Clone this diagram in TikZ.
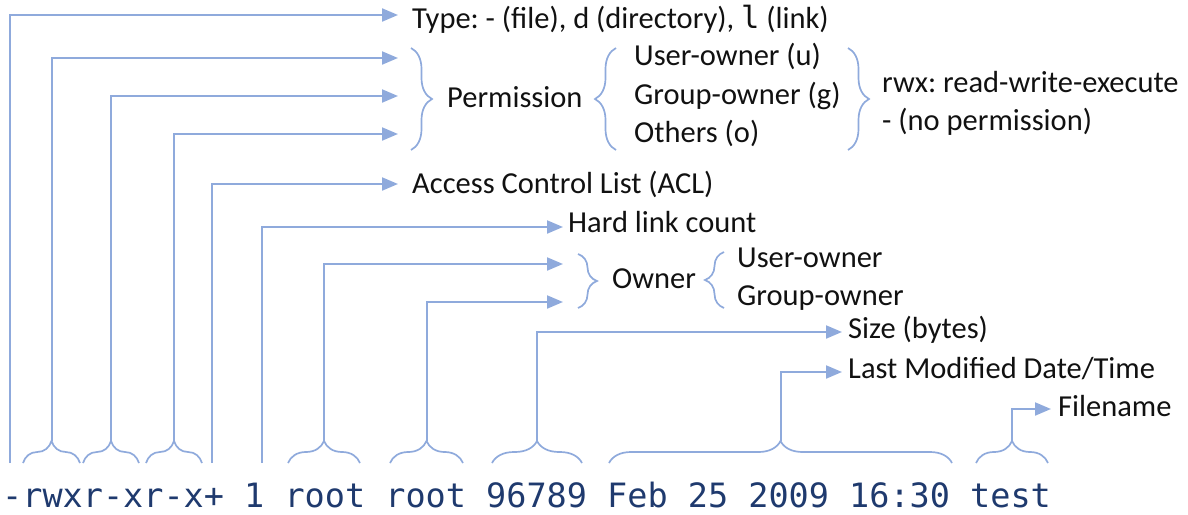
\documentclass[tikz,border=0pt]{standalone}
\usepackage{fontspec}
\setmainfont{Carlito}
\setmonofont{DejaVu Sans Mono}
\usetikzlibrary{arrows.meta,decorations.pathreplacing}
\definecolor{linkblue}{HTML}{8FAADC}
\definecolor{lsblue}{HTML}{1F3A6E}
\definecolor{lbltext}{HTML}{111111}
\frenchspacing

\begin{document}
\begin{tikzpicture}[x=1pt,y=-1pt,
		lbl/.style={anchor=base west,inner sep=0pt,text=lbltext,font=\fontsize{30.5}{36}\selectfont},
		link/.style={draw=linkblue,line width=2pt,-{Triangle[length=16pt,width=13pt]}},
		brc/.style={draw=linkblue,line width=1.7pt,decorate,decoration={brace,amplitude=#1}},
		brc/.default=22pt]
	\useasboundingbox (0,0) rectangle (1188,514);
	\node[anchor=base west,inner sep=0pt,text=lsblue,font=\ttfamily\fontsize{33.5}{40}\selectfont] (ls) at (2,507) {-rwxr-xr-x+ 1 root root 96789 Feb 25 2009 16:30 test};
	% braces under the listing
	\draw[brc] (23,463) -- (80,463);
	\draw[brc] (83,463) -- (139,463);
	\draw[brc] (146,463) -- (202,463);
	\draw[brc] (288,463) -- (360,463);
	\draw[brc] (390,463) -- (463,463);
	\draw[brc] (492,463) -- (582,463);
	\draw[brc] (609,463) -- (952,463);
	\draw[brc] (976,463) -- (1048,463);
	\coordinate (ty) at (9.5,463);
	\coordinate (pu) at (51.5,441);
	\coordinate (pg) at (111,441);
	\coordinate (po) at (174,441);
	\coordinate (acl) at (212,463);
	\coordinate (hl) at (262,463);
	\coordinate (ou) at (324,441);
	\coordinate (og) at (426.5,441);
	\coordinate (sz) at (537,441);
	\coordinate (dt) at (780.5,441);
	\coordinate (fn) at (1012,441);
	% arrow ends
	\coordinate (e-type) at (398,15);
	\coordinate (e-pu) at (398,58);
	\coordinate (e-pg) at (398,96);
	\coordinate (e-po) at (398,134);
	\coordinate (e-acl) at (398,184);
	\coordinate (e-hl) at (563,227);
	\coordinate (e-ou) at (563,264);
	\coordinate (e-og) at (563,302);
	\coordinate (e-sz) at (842,332);
	\coordinate (e-dt) at (842,372);
	\coordinate (e-fn) at (1051,409);
	\foreach \e/\s in {type/ty,pu/pu,pg/pg,po/po,acl/acl,hl/hl,ou/ou,og/og,sz/sz,dt/dt,fn/fn}
		\draw[link] (\s) |- (e-\e);
	% labels
	\node[lbl] (type) at (412,28) {Type: - (file), d (directory), {\ttfamily l} (link)};
	\draw[brc=21pt] (411,48) -- (411,150);
	\node[lbl] (perm) at (447,107) {Permission};
	\draw[brc=21pt] (616,150) -- (616,48);
	\node[lbl] (uo) at (634,65) {User-owner (u)};
	\node[lbl] (go) at (634,104) {Group-owner (g)};
	\node[lbl] (ot) at (634,142) {Others (o)};
	\draw[brc=21pt] (848,48) -- (848,150);
	\node[lbl] (rwx) at (882,92) {rwx: read-write-execute};
	\node[lbl] (np) at (882,130) {- (no permission)};
	\node[lbl] (acll) at (412,193) {Access Control List (ACL)};
	\node[lbl] (hll) at (568,232) {Hard link count};
	\draw[brc=19pt] (578,254) -- (578,308);
	\node[lbl] (own) at (612,288) {Owner};
	\draw[brc=19pt] (724,308) -- (724,252);
	\node[lbl] (ouu) at (737,267) {User-owner};
	\node[lbl] (ogg) at (737,305) {Group-owner};
	\node[lbl] (szl) at (848,338) {Size (bytes)};
	\node[lbl] (dtl) at (848,378) {Last Modified Date/Time};
	\node[lbl] (fnl) at (1058,416) {Filename};
\end{tikzpicture}
\end{document}
